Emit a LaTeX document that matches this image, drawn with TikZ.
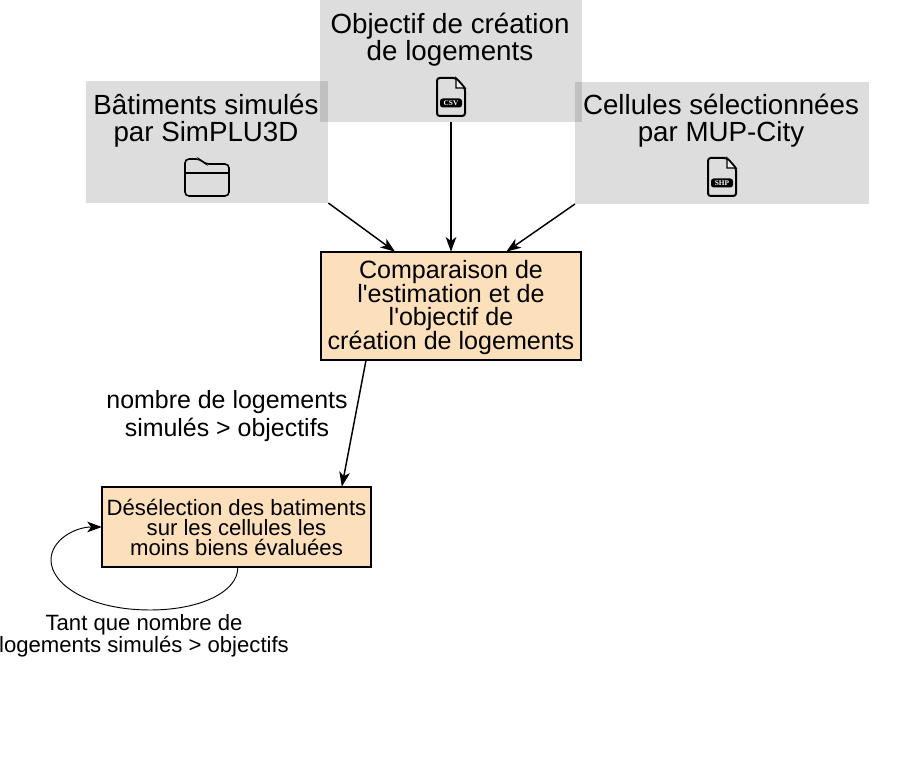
\documentclass[tikz,border=0pt]{standalone}
\usepackage{fontspec}
\setmainfont{Liberation Sans}[Ligatures=TeXOff]
\newfontfamily\iconfont{Liberation Serif}
\usetikzlibrary{arrows.meta}
\tikzset{
  source/.style={fill=black, fill opacity=0.135, draw=none, inner sep=0pt, outer sep=0pt},
  sourcetext/.style={align=center, inner sep=0pt, font=\fontsize{20.8}{20}\selectfont},
  process/.style={draw=black, line width=1.3pt, fill=procfill, align=center, inner sep=0pt, outer sep=0pt},
  lien/.style={line width=1.1pt, -{Stealth[length=11pt,width=8pt,inset=3pt]}},
  file icon/.pic={
    \draw[line width=1.5pt, rounded corners=2pt]
      (-14,-19) -- (5,-19) -- (14,-9) -- (14,19) -- (-14,19) -- cycle;
    \draw[line width=1pt, fill=white, fill opacity=0.6] (5,-19) -- (5,-9) -- (14,-9) -- cycle;
    \node[fill=black, text=white, rounded corners=2pt, inner sep=0pt, minimum width=16.5pt, minimum height=6.75pt,
      font=\iconfont\bfseries\fontsize{5.5}{5.5}\selectfont] (-label) at (0,6) {\tikzpictext};
  },
  folder icon/.pic={
    \draw[line width=1.2pt, rounded corners=3pt]
      (-22,-7) -- (-22,-19) -- (-7,-19) -- (-2,-14) -- (22,-14) -- (22,18) -- (-22,18) -- cycle;
    \draw[line width=1.2pt] (-22,-5) -- (22,-5);
  }
}
\definecolor{procfill}{HTML}{FCDFBB}
\begin{document}
\begin{tikzpicture}[x=0.75pt, y=-0.75pt]
  \useasboundingbox (0,0) rectangle (911,766);
  % sources
  \node[source, minimum width=182pt, minimum height=91.5pt] (batiments) at (207,142) {};
  \node[source, minimum width=196.5pt, minimum height=96pt] (objectif) at (451,58) {};
  \node[source, minimum width=220.5pt, minimum height=91.5pt] (cellules) at (722,143) {};
  \node[sourcetext] (batimentstext) at (206,121) {Bâtiments simulés\\par SimPLU3D};
  \node[sourcetext] (objectiftext) at (450,40) {Objectif de création\\de logements};
  \node[sourcetext] (cellulestext) at (721,121) {Cellules sélectionnées\\par MUP-City};
  \pic at (207,178) {folder icon};
  \pic[pic text=CSV] at (451,97) {file icon};
  \pic[pic text=SHP] at (722,177) {file icon};
  % traitements
  \node[process, minimum width=195pt, minimum height=81.5pt, text depth=1.5pt,
    font=\fontsize{18.8}{17.75}\selectfont] (comparaison) at (451,306)
    {Comparaison de\\l'estimation et de\\l'objectif de\\création de logements};
  \node[process, minimum width=202pt, minimum height=60.5pt,
    font=\fontsize{16.6}{15}\selectfont] (deselection) at (236.5,527)
    {Désélection des batiments\\sur les cellules les\\moins biens évaluées};
  % liens
  \draw[lien] (batiments.south east) -- ([xshift=55.5pt]comparaison.north west);
  \draw[lien] (objectif.south) -- (comparaison.north);
  \draw[lien] (cellules.south west) -- ([xshift=-56pt]comparaison.north east);
  \draw[lien] ([xshift=33.75pt]comparaison.south west) -- ([xshift=180pt]deselection.north west);
  \node[align=center, inner sep=0pt, font=\fontsize{18.7}{21}\selectfont] (condition) at (227,416)
    {nombre de logements\\simulés > objectifs};
  \coordinate (bouclebas) at ([xshift=102pt]deselection.south west);
  \draw[line width=0.7pt, -{Stealth[length=11pt,width=8pt,inset=3pt]}] (bouclebas)
    .. controls (238,592) and (200,610) .. (150,610) .. controls (90,610) and (51,585) .. (51,560)
    .. controls (51,540) and (75,527) .. (deselection.west);
  \node[align=center, inner sep=0pt, font=\fontsize{16.6}{15}\selectfont] (tantque) at (144,636)
    {Tant que nombre de\\logements simulés > objectifs};
\end{tikzpicture}
\end{document}
